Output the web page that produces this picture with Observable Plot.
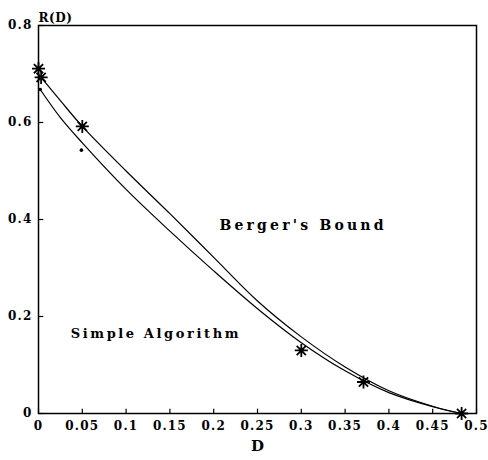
<!DOCTYPE html>
<html>
<head>
<meta charset="utf-8">
<script src="https://cdn.jsdelivr.net/npm/d3@7"></script>
<script src="https://cdn.jsdelivr.net/npm/@observablehq/plot@0.6"></script>
<style>
  html, body { margin: 0; padding: 0; background: #fff; }
</style>
</head>
<body>
<div id="chart"></div>
<script>
// Upper curve (Berger's Bound)
const upperD = [0.003, 0.025, 0.05, 0.1, 0.15, 0.2, 0.25, 0.3, 0.35, 0.4, 0.45, 0.483];
const upperR = [0.693, 0.645, 0.592, 0.500, 0.412, 0.322, 0.232, 0.158, 0.096, 0.047, 0.015, 0];
// Lower curve (Simple Algorithm)
const lowerD = [0.002, 0.025, 0.05, 0.1, 0.15, 0.2, 0.25, 0.3, 0.35, 0.4, 0.45, 0.483];
const lowerR = [0.668, 0.610, 0.558, 0.462, 0.376, 0.294, 0.216, 0.146, 0.088, 0.043, 0.014, 0];
// Asterisk points
const starD = [0, 0.003, 0.05, 0.3, 0.371, 0.483];
const starR = [0.711, 0.693, 0.592, 0.130, 0.065, 0];
// Small dots
const dotD = [0.002, 0.049];
const dotR = [0.668, 0.543];
// Ticks
const xTicks = [0, 0.05, 0.1, 0.15, 0.2, 0.25, 0.3, 0.35, 0.4, 0.45, 0.5];
const yTicks = [0, 0.2, 0.4, 0.6, 0.8];
// Labels
const curveLabels = ["Berger's Bound", "Simple Algorithm"];

const upper = upperD.map((d, i) => ({D: d, R: upperR[i]}));
const lower = lowerD.map((d, i) => ({D: d, R: lowerR[i]}));
const stars = starD.map((d, i) => ({D: d, R: starR[i]}));
const dots = dotD.map((d, i) => ({D: d, R: dotR[i]}));

const fmt = d => String(d);
const FONT = "'DejaVu Serif', serif";

// eight-armed asterisk
const star8 = {
  draw(context, size) {
    const r = Math.sqrt(size / Math.PI);
    for (let k = 0; k < 4; k++) {
      const a = k * Math.PI / 4;
      const c = Math.cos(a) * r, s = Math.sin(a) * r;
      context.moveTo(-c, -s);
      context.lineTo(c, s);
    }
  }
};

const txt = {fontFamily: FONT, fontWeight: "bold", fill: "black"};

const chart = Plot.plot({
  width: 488,
  height: 460,
  marginLeft: 38,
  marginRight: 12,
  marginTop: 25,
  marginBottom: 47,
  style: {background: "white", color: "black"},
  x: {domain: [0, 0.5], label: null},
  y: {domain: [0, 0.8], label: null},
  marks: [
    Plot.frame({stroke: "black", strokeWidth: 1.5}),
    Plot.axisX({ticks: xTicks, tickFormat: fmt, tickSize: 0, tickPadding: 8, label: null, fontSize: 12, ...txt}),
    Plot.axisY({ticks: yTicks, tickFormat: fmt, tickSize: 0, tickPadding: 6, label: null, fontSize: 12, ...txt}),
    Plot.ruleX(xTicks, {x: d => d, y1: 0, y2: 0.009, stroke: "black", strokeWidth: 1.2}),
    Plot.ruleY(yTicks, {y: d => d, x1: 0, x2: 0.006, stroke: "black", strokeWidth: 1.2}),
    Plot.line(upper, {x: "D", y: "R", curve: "catmull-rom", stroke: "black", strokeWidth: 1.2}),
    Plot.line(lower, {x: "D", y: "R", curve: "catmull-rom", stroke: "black", strokeWidth: 1.2}),
    Plot.dot(stars, {x: "D", y: "R", symbol: star8, r: 6.5, stroke: "black", strokeWidth: 1.8}),
    Plot.dot(dots, {x: "D", y: "R", r: 1.8, fill: "black", stroke: "none"}),
    Plot.text([curveLabels[0]], {x: 0.302, y: 0.388, text: d => d, fontSize: 14, ...txt}),
    Plot.text([curveLabels[1]], {x: 0.134, y: 0.165, text: d => d, fontSize: 13, ...txt}),
    Plot.text(["R(D)"], {frameAnchor: "top-left", textAnchor: "start", dy: -12, text: d => d, fontSize: 12, ...txt}),
    Plot.text(["D"], {frameAnchor: "bottom", dy: 37, text: d => d, fontSize: 15, ...txt})
  ]
});

// letter spacing (not a Plot option) set on the rendered text elements
const tickStrings = new Set([...xTicks, ...yTicks].map(fmt));
const spacing = {[curveLabels[0]]: "3.2px", [curveLabels[1]]: "2.6px", "R(D)": "0.6px"};
chart.querySelectorAll("text").forEach(t => {
  const s = t.textContent;
  if (spacing[s]) t.style.letterSpacing = spacing[s];
  else if (tickStrings.has(s)) t.style.letterSpacing = "1.2px";
});
document.getElementById("chart").appendChild(chart);
</script>
</body>
</html>
